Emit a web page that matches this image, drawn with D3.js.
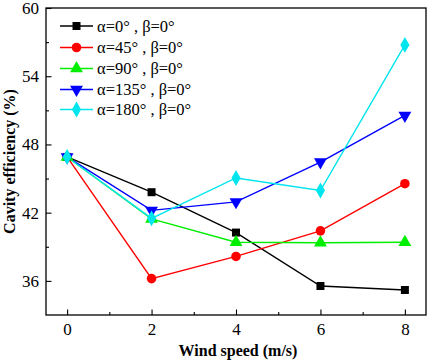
<!DOCTYPE html>
<html><head><meta charset="utf-8">
<script src="https://cdn.jsdelivr.net/npm/d3@7"></script>
<style>body{margin:0;background:#fff}svg{display:block}</style>
</head><body>
<svg id="c" width="429" height="364"></svg>
<script>
const windSpeed = [0, 2, 4, 6, 8];
const seriesNames = ["α=0° , β=0°", "α=45° , β=0°", "α=90° , β=0°", "α=135° , β=0°", "α=180° , β=0°"];
const alpha0 = [46.9, 43.8, 40.25, 35.55, 35.2];
const alpha45 = [46.9, 36.2, 38.15, 40.4, 44.55];
const alpha90 = [46.9, 41.45, 39.4, 39.35, 39.4];
const alpha135 = [46.9, 42.2, 42.95, 46.45, 50.55];
const alpha180 = [46.9, 41.5, 45.05, 43.95, 56.75];
const seriesColors = ["#000000", "#ff0000", "#00ee00", "#0000ff", "#00e5ee"];
const seriesSymbols = ["square", "circle", "triangle", "triangleDown", "diamond"];
const xTicks = [0, 2, 4, 6, 8];
const yTicks = [36, 42, 48, 54, 60];

const values = [alpha0, alpha45, alpha90, alpha135, alpha180];
const svg = d3.select("#c");
const L = 46, R = 426, T = 8, B = 315;
const x = d3.scaleLinear().domain([-0.5, 8.5]).range([L, R]);
const y = d3.scaleLinear().domain([33, 60]).range([B, T]);
const font = "'Liberation Serif', 'Times New Roman', serif";

// frame
svg.append("rect").attr("x", L).attr("y", T).attr("width", R - L).attr("height", B - T)
  .attr("fill", "none").attr("stroke", "#000").attr("stroke-width", 1.3);

// x axis
const xAxis = d3.axisBottom(x).tickValues(xTicks).tickSize(-5.5).tickPadding(8).tickFormat(d3.format("d"));
const gx = svg.append("g").attr("transform", `translate(0,${B})`).call(xAxis);
gx.select(".domain").remove();
gx.selectAll("text").attr("font-family", font).attr("font-size", 17).attr("fill", "#000");
const gxm = svg.append("g").attr("transform", `translate(0,${B})`)
  .call(d3.axisBottom(x).tickValues([1, 3, 5, 7]).tickSize(-3).tickFormat(""));
gxm.select(".domain").remove();

// y axis
const yAxis = d3.axisLeft(y).tickValues(yTicks).tickSize(-5.5).tickPadding(7).tickFormat(d3.format("d"));
const gy = svg.append("g").attr("transform", `translate(${L},0)`).call(yAxis);
gy.select(".domain").remove();
gy.selectAll("text").attr("font-family", font).attr("font-size", 17).attr("fill", "#000");
const gym = svg.append("g").attr("transform", `translate(${L},0)`)
  .call(d3.axisLeft(y).tickValues([39, 45, 51, 57]).tickSize(-3).tickFormat(""));
gym.select(".domain").remove();
svg.selectAll(".tick line").attr("stroke", "#000").attr("stroke-width", 1.1);

// axis titles
svg.append("text").attr("x", (L + R) / 2 + 2).attr("y", 356).attr("text-anchor", "middle")
  .attr("font-family", font).attr("font-weight", "bold").attr("font-size", 16).text("Wind speed (m/s)");
svg.append("text").attr("transform", `translate(9,${(T + B) / 2}) rotate(-90)`).attr("text-anchor", "middle")
  .attr("dominant-baseline", "central")
  .attr("font-family", font).attr("font-weight", "bold").attr("font-size", 16).text("Cavity efficiency (%)");

const symMap = {
  square: d3.symbol().type(d3.symbolSquare).size(64),
  circle: d3.symbol().type(d3.symbolCircle).size(72),
  triangle: d3.symbol().type(d3.symbolTriangle).size(72),
  triangleDown: d3.symbol().type(d3.symbolTriangle).size(72),
  diamond: d3.symbol().type(d3.symbolDiamond).size(72)
};
function drawSym(g, i, cx, cy) {
  const s = seriesSymbols[i];
  g.append("path").attr("d", symMap[s]())
    .attr("transform", `translate(${cx},${cy})` + (s === "triangleDown" ? " rotate(180)" : ""))
    .attr("fill", seriesColors[i]);
}

const line = d3.line().x(d => x(d[0])).y(d => y(d[1]));
values.forEach((vals, i) => {
  const pts = windSpeed.map((w, j) => [w, vals[j]]);
  svg.append("path").attr("d", line(pts)).attr("fill", "none")
    .attr("stroke", seriesColors[i]).attr("stroke-width", 1.4);
});
values.forEach((vals, i) => {
  const g = svg.append("g");
  windSpeed.forEach((w, j) => drawSym(g, i, x(w), y(vals[j])));
});

// legend
const legY = [26, 47.5, 68.5, 89.5, 109.5];
seriesNames.forEach((name, i) => {
  const g = svg.append("g");
  g.append("line").attr("x1", 60).attr("x2", 93).attr("y1", legY[i]).attr("y2", legY[i])
    .attr("stroke", seriesColors[i]).attr("stroke-width", 1.4);
  drawSym(g, i, 76.5, legY[i]);
  g.append("text").attr("x", 97).attr("y", legY[i]).attr("dominant-baseline", "central")
    .attr("font-family", font).attr("font-size", 16.5).text(name);
});
</script>
</body></html>
